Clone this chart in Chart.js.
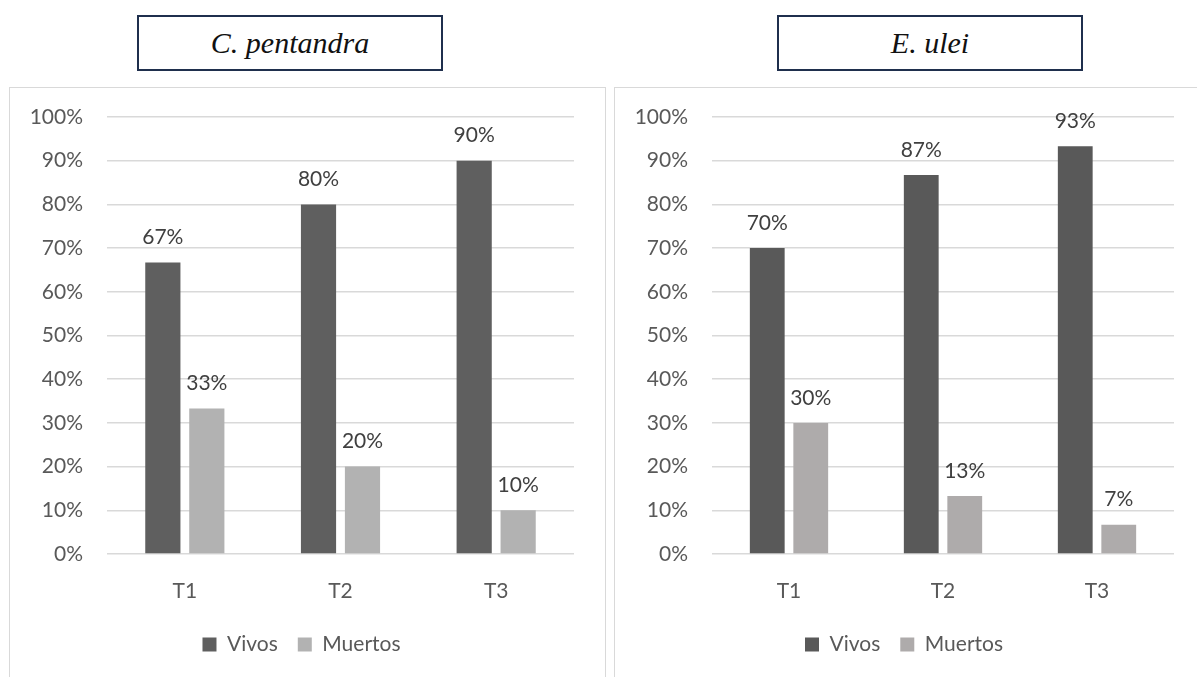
<!DOCTYPE html>
<html>
<head>
<meta charset="utf-8">
<script src="https://cdn.jsdelivr.net/npm/chart.js@4.4.1/dist/chart.umd.min.js"></script>
<style>
  html, body { margin: 0; padding: 0; background: #fff; }
  body { width: 1197px; height: 677px; position: relative; overflow: hidden; font-family: Lato, sans-serif; }
  .title-box {
    position: absolute; top: 15px; height: 52px; width: 302px;
    border: 2px solid #1f2f4d; background: #fff;
    font-family: "Liberation Serif", serif; font-style: italic; font-size: 30px;
    color: #111; display: flex; align-items: center; justify-content: center;
  }
  .panel { position: absolute; top: 87px; border: 1px solid #d9d9d9; background: #fff; }
  .panel canvas { position: absolute; left: 0; top: 0; }
</style>
</head>
<body>
<div class="title-box" style="left:137px;">C. pentandra</div>
<div class="title-box" style="left:777px;">E. ulei</div>

<div class="panel" style="left:9px; width:595px; height:600px;">
  <canvas id="chartLeft" width="595" height="590"></canvas>
</div>
<div class="panel" style="left:614px; width:600px; height:600px;">
  <canvas id="chartRight" width="583" height="590"></canvas>
</div>

<script>
// Categories and series (percent)
const categories = ['T1', 'T2', 'T3'];
const yTicks = [0, 10, 20, 30, 40, 50, 60, 70, 80, 90, 100];

// C. pentandra
const pentandraVivos = [66.7, 80, 90];
const pentandraMuertos = [33.3, 20, 10];
const pentandraVivosLabels = ['67%', '80%', '90%'];
const pentandraMuertosLabels = ['33%', '20%', '10%'];

// E. ulei
const uleiVivos = [70, 86.7, 93.3];
const uleiMuertos = [30, 13.3, 6.7];
const uleiVivosLabels = ['70%', '87%', '93%'];
const uleiMuertosLabels = ['30%', '13%', '7%'];

const TEXT_COLOR = '#595959';
const LABEL_COLOR = '#404040';
const GRID_COLOR = '#d9d9d9';
const FONT = { size: 21, family: 'Lato, sans-serif' };

/**
 * Draw value labels above each bar
 */
const barLabels = {
  id: 'barLabels',
  afterDatasetsDraw(chart) {
    const ctx = chart.ctx;
    ctx.save();
    ctx.font = FONT.size + 'px ' + FONT.family;
    ctx.fillStyle = LABEL_COLOR;
    ctx.textAlign = 'center';
    ctx.textBaseline = 'middle';
    chart.data.datasets.forEach((ds, i) => {
      const meta = chart.getDatasetMeta(i);
      meta.data.forEach((bar, j) => {
        ctx.fillText(ds.valueLabels[j], bar.x, bar.y - 25);
      });
    });
    ctx.restore();
  }
};

function buildChart(canvasId, vivos, muertos, vivosLabels, muertosLabels, colors, pad) {
  const ctx = document.getElementById(canvasId).getContext('2d');
  return new Chart(ctx, {
    type: 'bar',
    data: {
      labels: categories,
      datasets: [
        {
          label: 'Vivos',
          data: vivos,
          valueLabels: vivosLabels,
          backgroundColor: colors[0],
          borderWidth: 0,
          categoryPercentage: 0.565,
          barPercentage: 0.8
        },
        {
          label: 'Muertos',
          data: muertos,
          valueLabels: muertosLabels,
          backgroundColor: colors[1],
          borderWidth: 0,
          categoryPercentage: 0.565,
          barPercentage: 0.8
        }
      ]
    },
    options: {
      responsive: false,
      animation: false,
      layout: {
        padding: { left: pad.left, right: pad.right, top: 29, bottom: 13 }
      },
      plugins: {
        legend: {
          position: 'bottom',
          labels: {
            color: TEXT_COLOR,
            font: FONT,
            boxWidth: 14,
            boxHeight: 14,
            padding: 20
          }
        },
        tooltip: { enabled: false }
      },
      scales: {
        x: {
          grid: { display: false, drawTicks: false },
          border: { display: false },
          ticks: {
            color: TEXT_COLOR,
            font: FONT,
            padding: 25
          },
          afterFit(scale) { scale.height = 60; }
        },
        y: {
          min: 0,
          max: 100,
          afterBuildTicks(scale) { scale.ticks = yTicks.map(v => ({ value: v })); },
          grid: {
            color: GRID_COLOR,
            lineWidth: 1.5,
            drawTicks: true,
            tickLength: 20,
            tickColor: 'rgba(0,0,0,0)'
          },
          border: { display: false },
          ticks: {
            color: TEXT_COLOR,
            font: FONT,
            padding: 4,
            callback: v => v + '%'
          },
          afterFit(scale) { scale.width = pad.axis; }
        }
      }
    },
    plugins: [barLabels]
  });
}

buildChart('chartLeft', pentandraVivos, pentandraMuertos, pentandraVivosLabels, pentandraMuertosLabels,
  ['#5f5f5f', '#b2b2b2'], { left: 19, right: 31, axis: 78 });
buildChart('chartRight', uleiVivos, uleiMuertos, uleiVivosLabels, uleiMuertosLabels,
  ['#595959', '#aeabab'], { left: 19, right: 24, axis: 78 });
</script>
</body>
</html>
